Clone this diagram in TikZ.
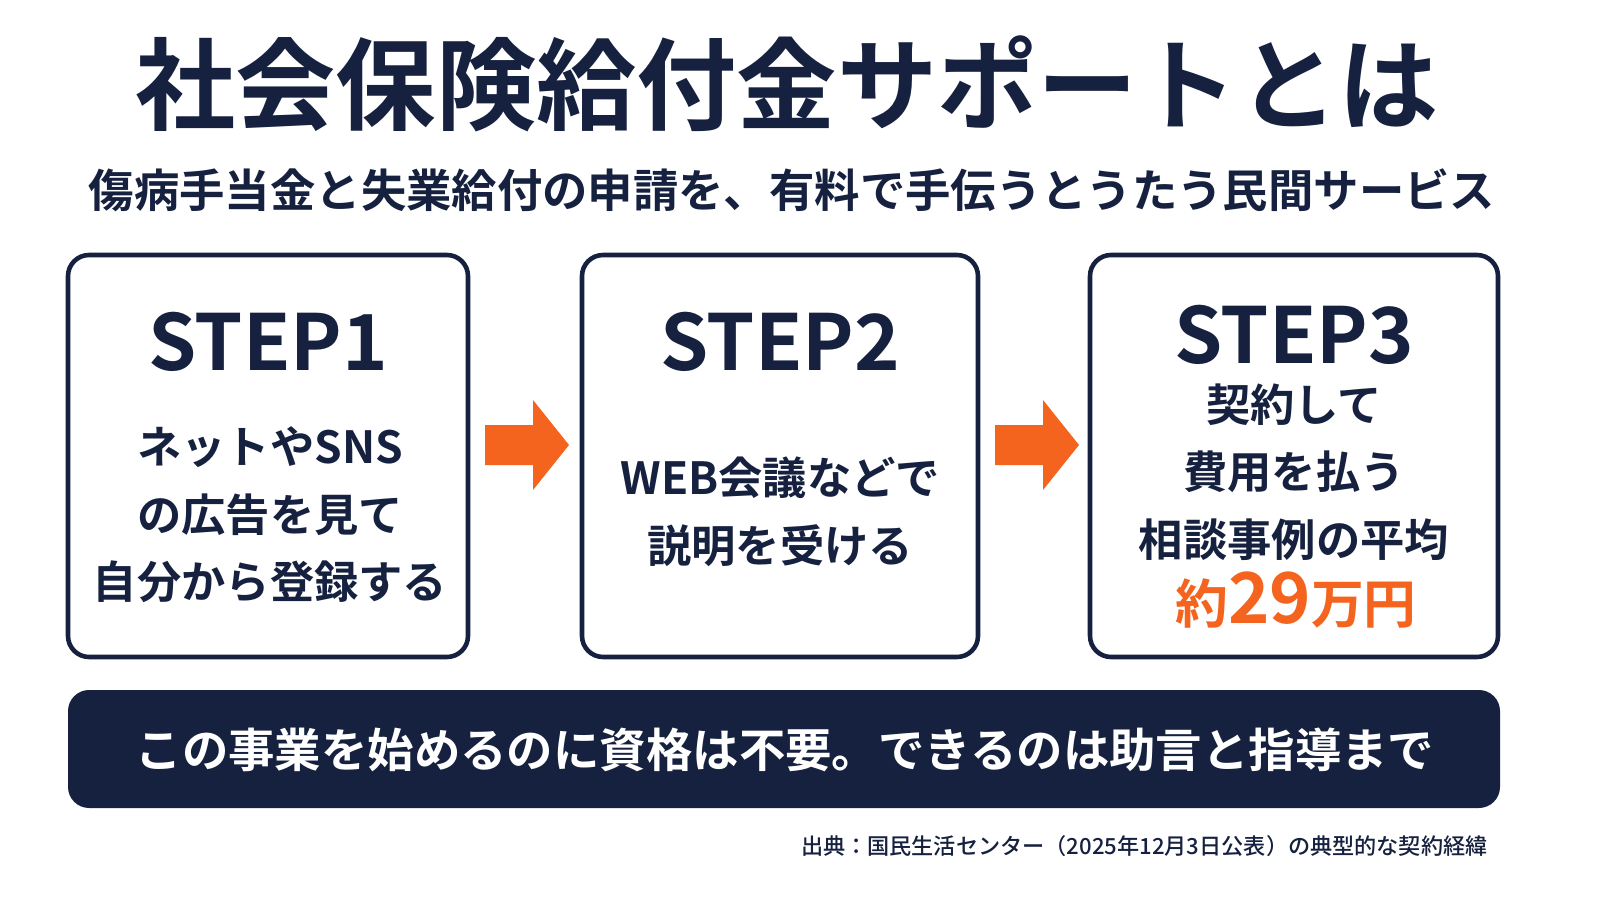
\documentclass[tikz,border=0pt]{standalone}
\usepackage{fontspec}
\newfontfamily\jpb{Noto Sans CJK JP Bold}
\newfontfamily\jpm{Noto Sans CJK JP Medium}
\definecolor{navy}{HTML}{15213F}
\definecolor{accent}{HTML}{F4641E}
\tikzset{
  stepbox/.style={draw=navy,line width=1.3pt,rounded corners=6pt,fill=white},
  steptitle/.style={text=navy,font=\jpb\fontsize{22}{22}\selectfont},
  boxtext/.style={text=navy,font=\jpb\fontsize{12.6}{19.2}\selectfont,align=center},
  flow/.style={fill=accent}
}
\newcommand\flowarrow[1]{%
  \fill[flow] (#1) ++(-42,-20) -- ++(48,0) -- ++(0,-25) -- ++(36,45)
    -- ++(-36,45) -- ++(0,-25) -- ++(-48,0) -- cycle;}
\begin{document}
\begin{tikzpicture}[x=0.01cm,y=-0.01cm]
  \useasboundingbox (0,0) rectangle (1600,900);
  \fill[white] (0,0) rectangle (1600,900);

  % title block
  \node[text=navy,font=\jpb\fontsize{28.5}{28}\selectfont] (title) at (787,84) {社会保険給付金サポートとは};
  \node[text=navy,font=\jpb\fontsize{12.9}{12}\selectfont] (sub) at (792,190) {傷病手当金と失業給付の申請を、有料で手伝うとうたう民間サービス};

  % steps
  \draw[stepbox] (68,255) rectangle (468,657);
  \draw[stepbox] (582,255) rectangle (978,657);
  \draw[stepbox] (1090,255) rectangle (1498,657);

  \node[steptitle] (s1) at (268,342) {STEP1};
  \node[steptitle] (s2) at (780,342) {STEP2};
  \node[steptitle] (s3) at (1294,335) {STEP3};

  \node[boxtext] (t1) at (270,515) {ネットやSNS\\の広告を見て\\自分から登録する};
  \node[boxtext] (t2) at (780,512) {WEB会議などで\\説明を受ける};
  \node[boxtext] (t3) at (1294,472) {契約して\\費用を払う\\相談事例の平均};
  \node[text=accent,font=\jpb\fontsize{15}{15}\selectfont] (price) at (1296,600)
    {約{\fontsize{20}{20}\selectfont 29}万円};

  \coordinate (a1) at (527,445);
  \coordinate (a2) at (1037,445);
  \flowarrow{a1}
  \flowarrow{a2}

  % banner
  \fill[navy,rounded corners=6pt] (68,690) rectangle (1500,808);
  \node[text=white,font=\jpb\fontsize{13.2}{13}\selectfont] (note) at (785,750)
    {この事業を始めるのに資格は不要。できるのは助言と指導まで};

  \node[anchor=east,text=navy,font=\jpm\fontsize{6.3}{6}\selectfont] (src) at (1500,846)
    {出典：国民生活センター（2025年12月3日公表）の典型的な契約経緯};
\end{tikzpicture}
\end{document}
